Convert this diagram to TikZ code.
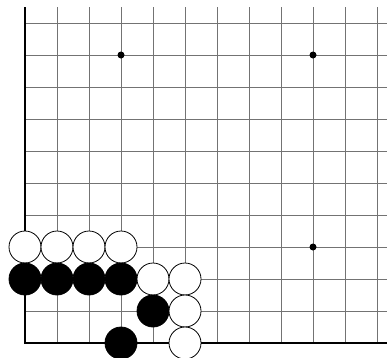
\documentclass[tikz,border=0pt]{standalone}
\begin{document}
\begin{tikzpicture}[x=1pt,y=-1pt,
  gridline/.style={draw=black!55, line width=0.9pt},
  edgeline/.style={draw=black, line width=2.2pt},
  wstone/.style={circle, minimum size=32pt, inner sep=0pt, draw=black, line width=0.8pt, fill=white},
  bstone/.style={circle, minimum size=32pt, inner sep=0pt, draw=black, line width=0.8pt, fill=black},
  hoshi/.style={circle, minimum size=7pt, inner sep=0pt, fill=black}]
\useasboundingbox (0,0) rectangle (387,357);
\clip (0,0) rectangle (387,357);
\fill[white] (0,0) rectangle (387,357);
% grid
\foreach \i in {1,...,11} {
  \draw[gridline] ({25+32*\i},7) -- ({25+32*\i},343);
}
\foreach \j in {0,...,9} {
  \draw[gridline] (25,{23+32*\j}) -- (390,{23+32*\j});
}
\draw[edgeline] (25,7) -- (25,343) -- (390,343);
% hoshi
\node[hoshi] (h1) at (121,55) {};
\node[hoshi] (h2) at (313,55) {};
\node[hoshi] (h3) at (313,247) {};
% stones
\node[wstone] (w1) at (25,247) {};
\node[wstone] (w2) at (57,247) {};
\node[wstone] (w3) at (89,247) {};
\node[wstone] (w4) at (121,247) {};
\node[bstone] (b1) at (25,279) {};
\node[bstone] (b2) at (57,279) {};
\node[bstone] (b3) at (89,279) {};
\node[bstone] (b4) at (121,279) {};
\node[wstone] (w5) at (153,279) {};
\node[wstone] (w6) at (185,279) {};
\node[bstone] (b5) at (153,311) {};
\node[wstone] (w7) at (185,311) {};
\node[bstone] (b6) at (121,343) {};
\node[wstone] (w8) at (185,343) {};
\end{tikzpicture}
\end{document}
